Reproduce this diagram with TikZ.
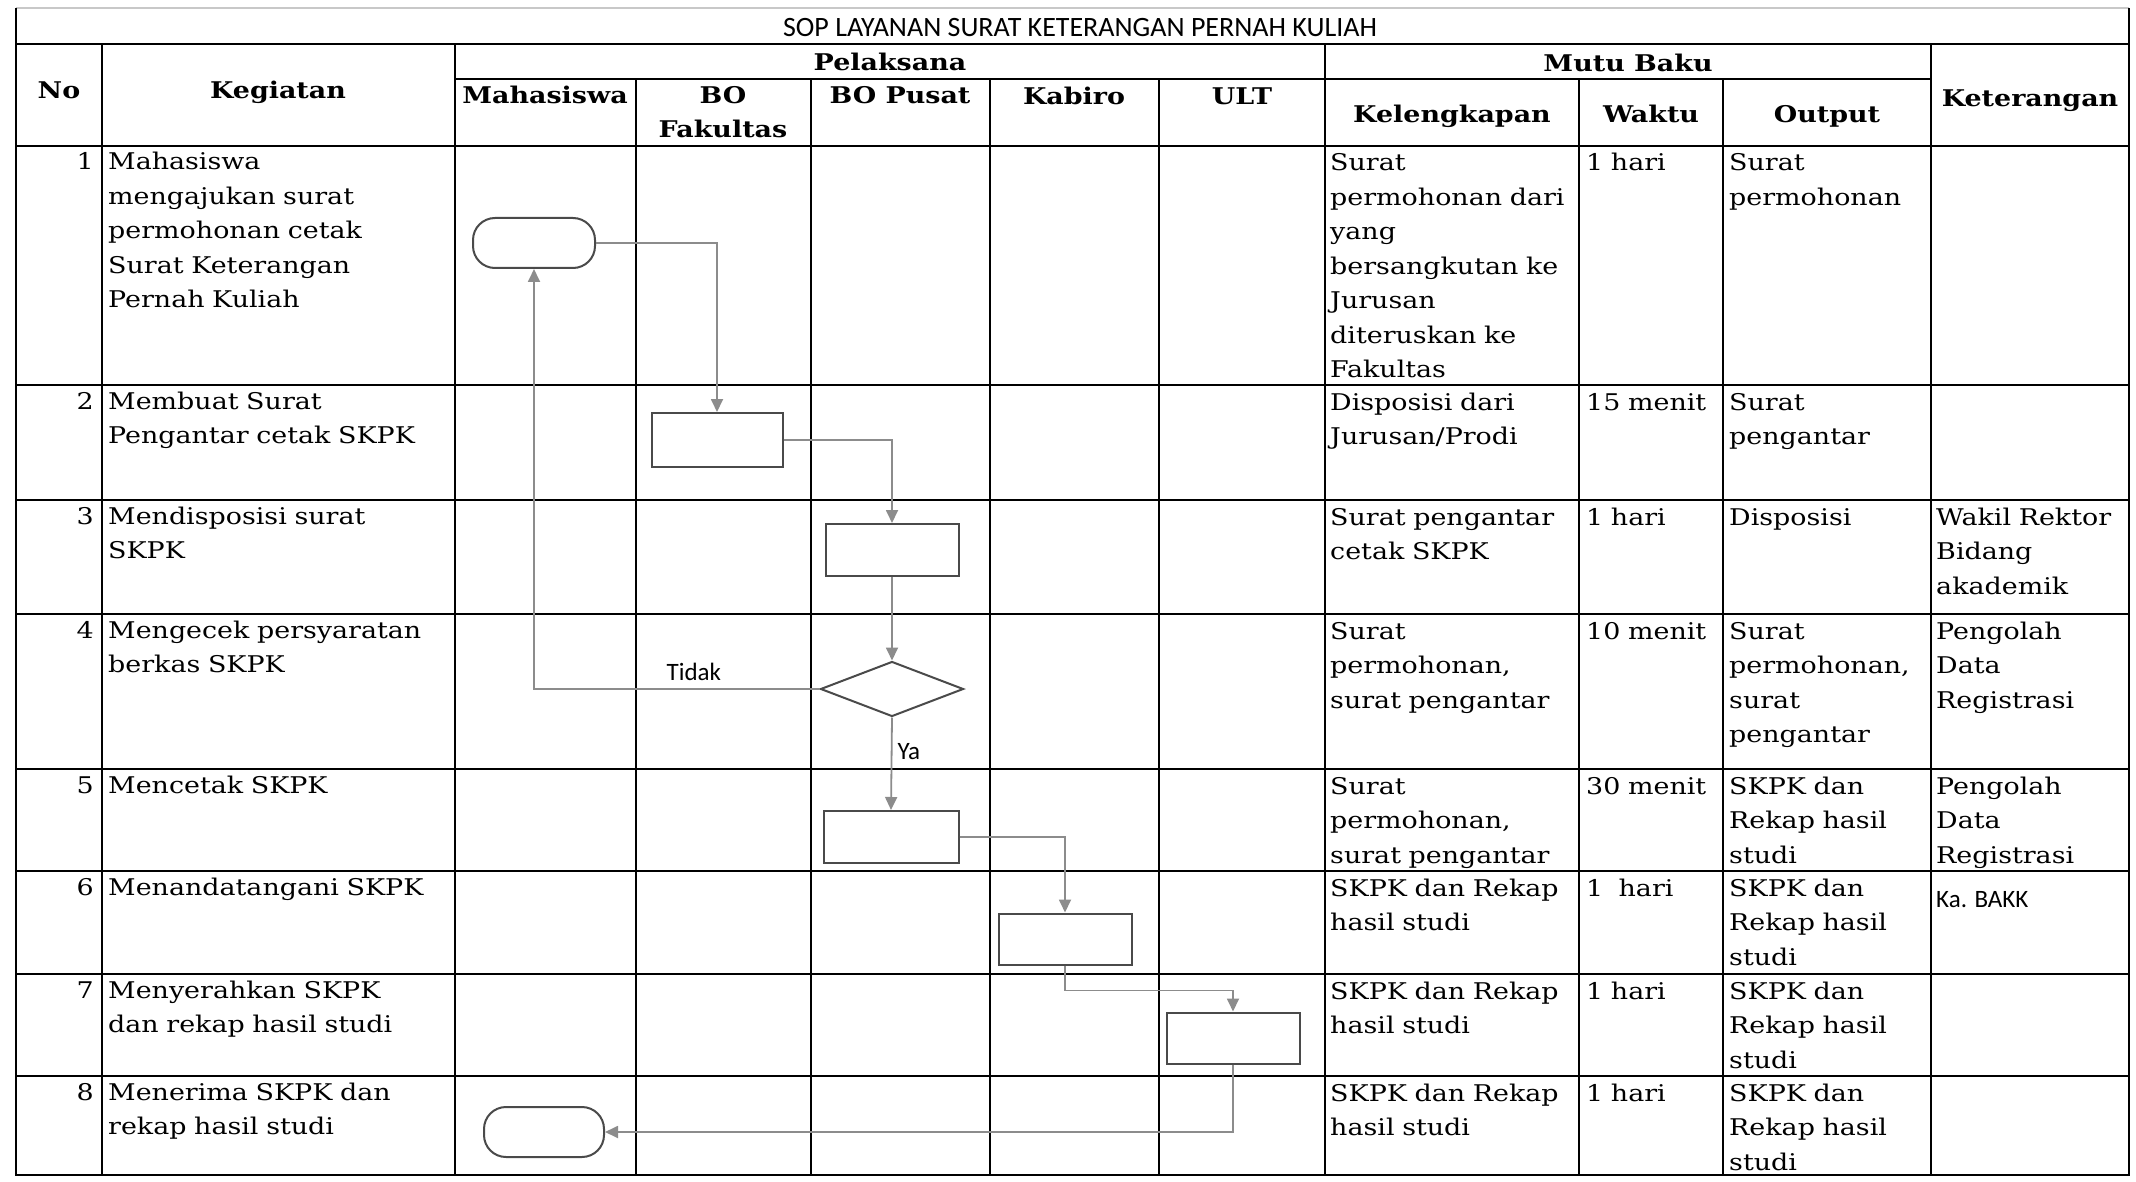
\documentclass[tikz,border=0pt]{standalone}
\usepackage{fontspec}
\setmainfont{DejaVu Serif}[FakeStretch=1.17]
\newfontfamily\calib{Carlito}
\usetikzlibrary{shapes.geometric,arrows.meta}
\definecolor{flowgray}{HTML}{8C8C8C}
\definecolor{shapeline}{HTML}{4A4A4A}
\definecolor{faintline}{HTML}{C8C8C8}

\begin{document}
\begin{tikzpicture}[x=1pt,y=-1pt,
  rule/.style={line width=2.6pt,black},
  hdr/.style={anchor=base,inner sep=0pt,font=\bfseries\fontsize{23}{28}\selectfont},
  cell/.style={anchor=base west,inner sep=0pt,align=left,text width=330pt,
               font=\fontsize{23}{34.5}\selectfont},
  num/.style={anchor=base east,inner sep=0pt,font=\fontsize{23}{34.5}\selectfont},
  note/.style={inner sep=0pt,font=\calib\fontsize{25}{30}\selectfont},
  term/.style={draw=shapeline,line width=2pt,rounded corners=22pt,
               minimum width=122pt,minimum height=50pt,inner sep=0pt},
  proc/.style={draw=shapeline,line width=2pt,rectangle,
               minimum width=133pt,minimum height=52pt,inner sep=0pt},
  dec/.style={draw=shapeline,line width=2pt,diamond,
              minimum width=143pt,minimum height=55pt,inner sep=0pt},
  conn/.style={draw=flowgray,line width=1.8pt,
               -{Triangle[length=13pt,width=12pt]}}]

\useasboundingbox (0,0) rectangle (2136,1182);
\fill[white] (0,0) rectangle (2136,1182);

% ---------- table frame ----------
\draw[faintline,line width=1.2pt] (16,8) -- (2129,8);
\draw[rule] (16,8) -- (16,1175) -- (2129,1175) -- (2129,8);
\draw[rule] (16,44) -- (2129,44);
\draw[rule] (455,79) -- (1931,79);
\draw[rule] (16,146) -- (2129,146);
\foreach \yy in {385,500,614,769,871,974,1076}
  \draw[rule] (16,\yy) -- (2129,\yy);
\foreach \xx in {102,455,1325,1931}
  \draw[rule] (\xx,44) -- (\xx,1175);
\foreach \xx in {636,811,990,1159,1579,1723}
  \draw[rule] (\xx,79) -- (\xx,1175);

% ---------- title and headers ----------
\node[anchor=base,inner sep=0pt,font=\calib\fontsize{28}{30}\selectfont] (title)
  at (1080,37) {SOP LAYANAN SURAT KETERANGAN PERNAH KULIAH};
\node[hdr] (hNo)   at (59,99)   {No};
\node[hdr] (hKeg)  at (278,99)  {Kegiatan};
\node[hdr] (hPel)  at (890,71)  {Pelaksana};
\node[hdr] (hMutu) at (1628,72) {Mutu Baku};
\node[hdr] (hMhs)  at (545,104) {Mahasiswa};
\node[hdr] (hBOa)  at (723,104) {BO};
\node[hdr] (hBOb)  at (723,138) {Fakultas};
\node[hdr] (hBOP)  at (900,104) {BO Pusat};
\node[hdr] (hKab)  at (1074,105) {Kabiro};
\node[hdr] (hULT)  at (1242,105) {ULT};
\node[hdr] (hKel)  at (1452,123) {Kelengkapan};
\node[hdr] (hWkt)  at (1651,123) {Waktu};
\node[hdr] (hOut)  at (1827,123) {Output};
\node[hdr] (hKet)  at (2030,107) {Keterangan};

% ---------- row 1 ----------
\node[num]  (n1) at (94,170)   {1};
\node[cell] (k1) at (108,170)  {Mahasiswa\\mengajukan surat\\permohonan cetak\\Surat Keterangan\\Pernah Kuliah};
\node[cell] (l1) at (1330,171) {Surat\\permohonan dari\\yang\\bersangkutan ke\\Jurusan\\diteruskan ke\\Fakultas};
\node[cell] (w1) at (1586,171) {1 hari};
\node[cell] (o1) at (1729,171) {Surat\\permohonan};

% ---------- row 2 ----------
\node[num]  (n2) at (94,409)   {2};
\node[cell] (k2) at (108,409)  {Membuat Surat\\Pengantar cetak SKPK};
\node[cell] (l2) at (1330,410) {Disposisi dari\\Jurusan/Prodi};
\node[cell] (w2) at (1586,410) {15 menit};
\node[cell] (o2) at (1729,410) {Surat\\pengantar};

% ---------- row 3 ----------
\node[num]  (n3) at (94,524)   {3};
\node[cell] (k3) at (108,524)  {Mendisposisi surat\\SKPK};
\node[cell] (l3) at (1330,525) {Surat pengantar\\cetak SKPK};
\node[cell] (w3) at (1586,525) {1 hari};
\node[cell] (o3) at (1729,525) {Disposisi};
\node[cell] (e3) at (1936,525) {Wakil Rektor\\Bidang\\akademik};

% ---------- row 4 ----------
\node[num]  (n4) at (94,638)   {4};
\node[cell] (k4) at (108,638)  {Mengecek persyaratan\\berkas SKPK};
\node[cell] (l4) at (1330,639) {Surat\\permohonan,\\surat pengantar};
\node[cell] (w4) at (1586,639) {10 menit};
\node[cell] (o4) at (1729,639) {Surat\\permohonan,\\surat\\pengantar};
\node[cell] (e4) at (1936,639) {Pengolah\\Data\\Registrasi};

% ---------- row 5 ----------
\node[num]  (n5) at (94,793)   {5};
\node[cell] (k5) at (108,793)  {Mencetak SKPK};
\node[cell] (l5) at (1330,794) {Surat\\permohonan,\\surat pengantar};
\node[cell] (w5) at (1586,794) {30 menit};
\node[cell] (o5) at (1729,794) {SKPK dan\\Rekap hasil\\studi};
\node[cell] (e5) at (1936,794) {Pengolah\\Data\\Registrasi};

% ---------- row 6 ----------
\node[num]  (n6) at (94,895)   {6};
\node[cell] (k6) at (108,895)  {Menandatangani SKPK};
\node[cell] (l6) at (1330,896) {SKPK dan Rekap\\hasil studi};
\node[cell] (w6) at (1586,896) {1~~hari};
\node[cell] (o6) at (1729,896) {SKPK dan\\Rekap hasil\\studi};
\node[note,anchor=base west] (e6) at (1936,907) {Ka. BAKK};

% ---------- row 7 ----------
\node[num]  (n7) at (94,998)   {7};
\node[cell] (k7) at (108,998)  {Menyerahkan SKPK\\dan rekap hasil studi};
\node[cell] (l7) at (1330,999) {SKPK dan Rekap\\hasil studi};
\node[cell] (w7) at (1586,999) {1 hari};
\node[cell] (o7) at (1729,999) {SKPK dan\\Rekap hasil\\studi};

% ---------- row 8 ----------
\node[num]  (n8) at (94,1100)   {8};
\node[cell] (k8) at (108,1100)  {Menerima SKPK dan\\rekap hasil studi};
\node[cell] (l8) at (1330,1101) {SKPK dan Rekap\\hasil studi};
\node[cell] (w8) at (1586,1101) {1 hari};
\node[cell] (o8) at (1729,1101) {SKPK dan\\Rekap hasil\\studi};

% ---------- flow shapes ----------
\node[term] (t1) at (534,243)  {};
\node[proc,minimum width=131pt,minimum height=54pt] (p2) at (717,440) {};
\node[proc] (p3) at (892,550)  {};
\node[dec]  (d4) at (892,689)  {};
\node[proc,minimum width=135pt] (p5) at (891,837) {};
\node[proc,minimum height=51pt] (p6) at (1065,939) {};
\node[proc,minimum height=51pt] (p7) at (1233,1038) {};
\node[term,minimum width=120pt] (t8) at (544,1132) {};

% ---------- connectors ----------
\draw[conn] (t1.east) -| (p2.north);
\draw[conn] (p2.east) -| (p3.north);
\draw[conn] (p3.south) -- (d4.north);
\draw[conn] (d4.west) -| node[note,pos=0.22,above=7pt] (lTidak) {Tidak} (t1.south);
\draw[conn] (d4.south) -- node[note,pos=0.37,right=5pt] (lYa) {Ya} (p5.north);
\draw[conn] (p5.east) -| (p6.north);
\draw[conn] (p6.south) -- ++(0,25) -| (p7.north);
\draw[conn] (p7.south) |- (t8.east);

\end{tikzpicture}
\end{document}
